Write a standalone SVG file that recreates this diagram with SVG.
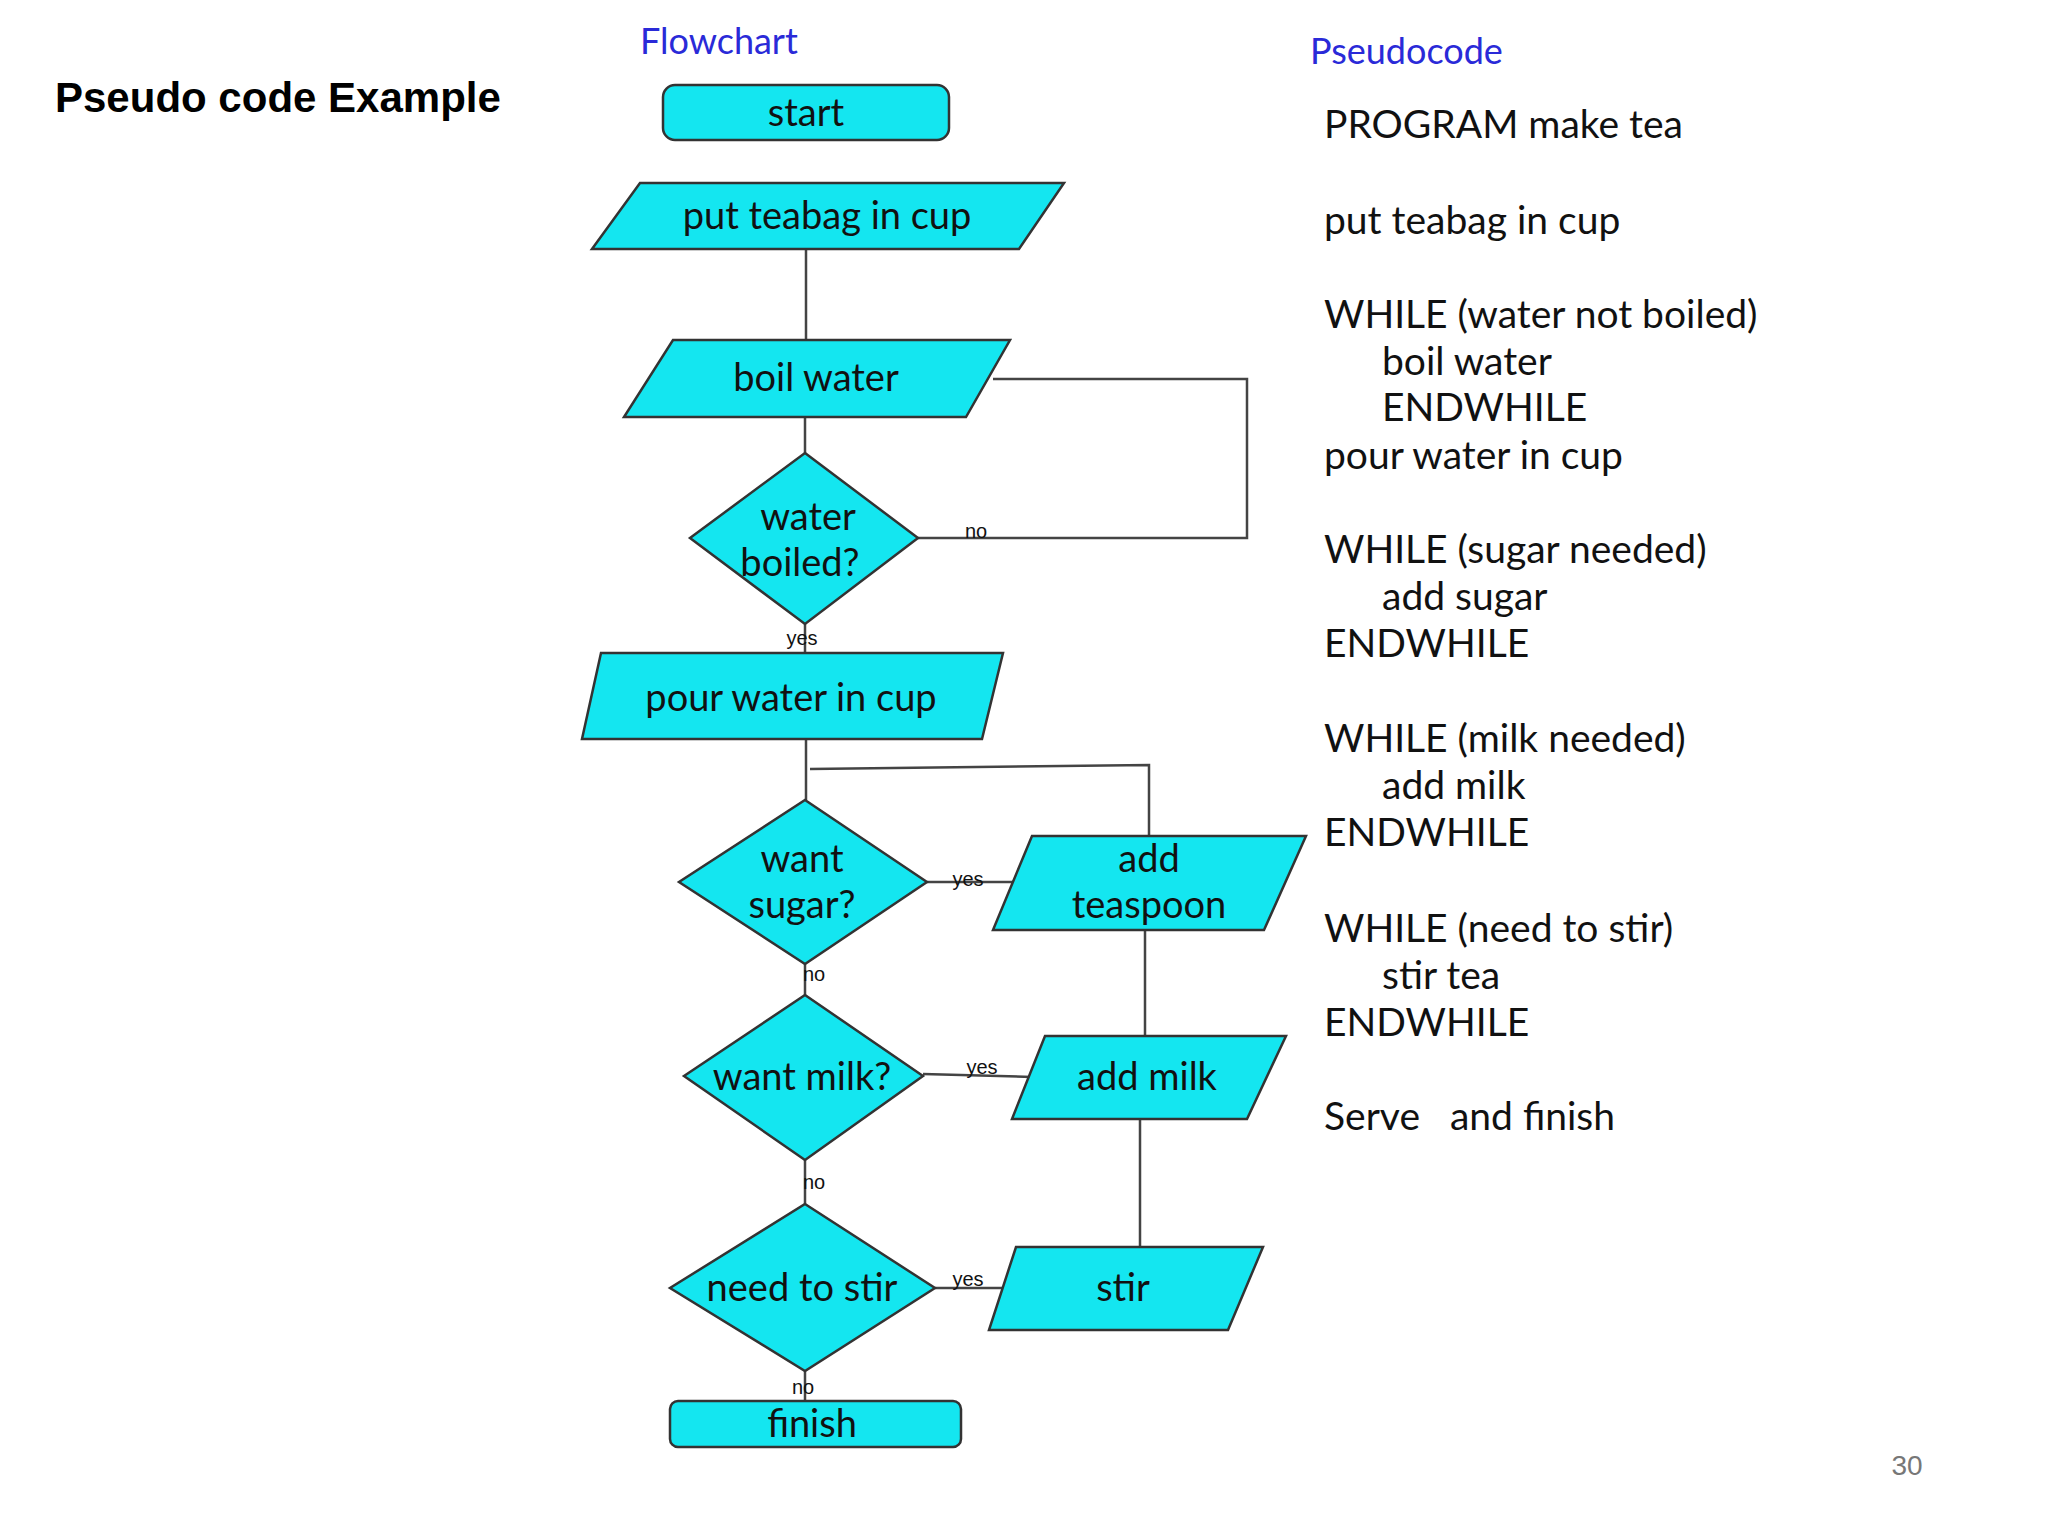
<svg xmlns="http://www.w3.org/2000/svg" width="2048" height="1536" viewBox="0 0 2048 1536">
<style>
.s{fill:#14e6f0;stroke:#333;stroke-width:2.5}
.t{font-family:Lato,"Open Sans",sans-serif;font-size:38px;fill:#111;text-anchor:middle}
.l{font-family:"Liberation Sans",sans-serif;font-size:20px;fill:#111;text-anchor:middle}
.p{font-family:Lato,"Open Sans",sans-serif;font-size:39px;fill:#111}
.h{font-family:Lato,"Open Sans",sans-serif;font-size:36px;fill:#2a2ad8}
.c{fill:none;stroke:#444;stroke-width:2.5}
</style>
<rect width="2048" height="1536" fill="#fff"/>
<text x="55" y="112" font-family="'Liberation Sans',sans-serif" font-weight="bold" font-size="42">Pseudo code Example</text>
<text class="h" x="640" y="54">Flowchart</text>
<text class="h" x="1310" y="64">Pseudocode</text>
<g id="connectors">
<path class="c" d="M806 249V340M805 417V453M918 538H1247V379H993M805 624V653M806 739V800M810 769L1149 765V836M927 882H1016M805 964V995M923 1074L1032 1077M1145 930V1036M1140 1119V1247M805 1160V1204M935 1288H1006M805 1371V1401"/>
<text class="l" x="976" y="538">no</text>
<text class="l" x="802" y="645">yes</text>
<text class="l" x="968" y="886">yes</text>
<text class="l" x="814" y="981">no</text>
<text class="l" x="982" y="1074">yes</text>
<text class="l" x="814" y="1189">no</text>
<text class="l" x="968" y="1286">yes</text>
<text class="l" x="803" y="1394">no</text>
</g>
<g id="start"><rect class="s" x="663" y="85" width="286" height="55" rx="12"/><text class="t" x="806" y="126">start</text></g>
<g id="teabag"><polygon class="s" points="640,183 1064,183 1019,249 592,249"/><text class="t" x="827" y="229">put teabag in cup</text></g>
<g id="boil"><polygon class="s" points="673,340 1010,340 966,417 624,417"/><text class="t" x="816" y="391">boil water</text></g>
<g id="boiled"><polygon class="s" points="805,453 918,538 805,624 690,538"/><text class="t" x="808" y="530">water</text><text class="t" x="800" y="576">boiled?</text></g>
<g id="pour"><polygon class="s" points="601,653 1003,653 982,739 582,739"/><text class="t" x="791" y="711">pour water in cup</text></g>
<g id="sugar"><polygon class="s" points="805,800 927,882 805,964 679,882"/><text class="t" x="802" y="872">want</text><text class="t" x="802" y="918">sugar?</text></g>
<g id="teaspoon"><polygon class="s" points="1032,836 1306,836 1264,930 993,930"/><text class="t" x="1149" y="872">add</text><text class="t" x="1149" y="918">teaspoon</text></g>
<g id="milk"><polygon class="s" points="805,995 923,1076 805,1160 684,1076"/><text class="t" x="802" y="1090">want milk?</text></g>
<g id="addmilk"><polygon class="s" points="1045,1036 1286,1036 1247,1119 1012,1119"/><text class="t" x="1147" y="1090">add milk</text></g>
<g id="stir"><polygon class="s" points="805,1204 935,1288 805,1371 670,1288"/><text class="t" x="802" y="1301">need to stir</text></g>
<g id="stirbox"><polygon class="s" points="1016,1247 1263,1247 1228,1330 989,1330"/><text class="t" x="1123" y="1301">stir</text></g>
<g id="finish"><rect class="s" x="670" y="1401" width="291" height="46" rx="8"/><text class="t" x="812" y="1437">finish</text></g>
<g id="pseudocode">
<text class="p" x="1324" y="138">PROGRAM make tea</text>
<text class="p" x="1324" y="234">put teabag in cup</text>
<text class="p" x="1324" y="328">WHILE (water not boiled)</text>
<text class="p" x="1382" y="375">boil water</text>
<text class="p" x="1382" y="421">ENDWHILE</text>
<text class="p" x="1324" y="469">pour water in cup</text>
<text class="p" x="1324" y="563">WHILE (sugar needed)</text>
<text class="p" x="1382" y="610">add sugar</text>
<text class="p" x="1324" y="657">ENDWHILE</text>
<text class="p" x="1324" y="752">WHILE (milk needed)</text>
<text class="p" x="1382" y="799">add milk</text>
<text class="p" x="1324" y="846">ENDWHILE</text>
<text class="p" x="1324" y="942">WHILE (need to stir)</text>
<text class="p" x="1382" y="989">stir tea</text>
<text class="p" x="1324" y="1036">ENDWHILE</text>
<text class="p" x="1324" y="1130" xml:space="preserve">Serve   and finish</text>
</g>
<text x="1907" y="1475" font-family="'Liberation Sans',sans-serif" font-size="28" fill="#777" text-anchor="middle">30</text>
</svg>
